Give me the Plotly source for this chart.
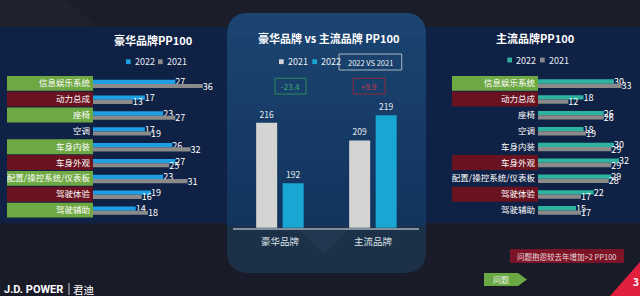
import plotly.graph_objects as go

W, H = 640, 296
def px(x): return x / W
def py(y): return 1 - y / H
def P(x, y): return f"{px(x):.5f},{py(y):.5f}"

# ---------------- data ----------------
categories = ["信息娱乐系统", "动力总成", "座椅", "空调", "车身内装", "车身外观",
              "配置/操控系统/仪表板", "驾驶体验", "驾驶辅助"]
luxury_2022 = [27, 17, 23, 17, 26, 27, 23, 19, 14]
luxury_2021 = [36, 13, 27, 19, 32, 25, 31, 16, 18]
mainstream_2022 = [30, 18, 26, 18, 30, 32, 29, 22, 15]
mainstream_2021 = [33, 12, 26, 19, 29, 29, 28, 17, 17]
luxury_tags = ["g", "r", "g", "", "g", "r", "g", "r", "g"]
mainstream_tags = ["g", "r", "", "", "", "r", "", "r", ""]
segments = ["豪华品牌", "主流品牌"]
total_2021 = [216, 209]
total_2022 = [192, 219]
change_labels = ["-23.4", "+9.9"]
years = ["2022", "2021"]

FONT = "Noto Sans CJK SC, Noto Sans, sans-serif"
BLUE = "#1e9fe3"
TEAL = "#2db3a0"
GRAY = "#8a8a8a"
LGRAY = "#d4d4d4"
CBLUE = "#1aa6d3"
GREEN_TAG = "#6ea843"
RED_TAG = "#6b1221"

fig = go.Figure()
rows = list(range(len(categories)))

common_h = dict(orientation="h", textposition="outside", cliponaxis=False,
                constraintext="none", textfont=dict(size=9, color="#ffffff"),
                hoverinfo="skip", marker_line_width=0)
# left chart
fig.add_bar(x=luxury_2022, y=rows, xaxis="x", yaxis="y", marker_color=BLUE,
            width=0.27, offset=-0.23, text=luxury_2022, **common_h)
fig.add_bar(x=luxury_2021, y=rows, xaxis="x", yaxis="y", marker_color=GRAY,
            width=0.26, offset=0.04, text=luxury_2021, **common_h)
# right chart
fig.add_bar(x=mainstream_2022, y=rows, xaxis="x3", yaxis="y3", marker_color=TEAL,
            width=0.27, offset=-0.25, text=mainstream_2022, **common_h)
fig.add_bar(x=mainstream_2021, y=rows, xaxis="x3", yaxis="y3", marker_color=GRAY,
            width=0.27, offset=0.02, text=mainstream_2021, **common_h)
# center chart
seg_x = list(range(len(segments)))
fig.add_bar(x=seg_x, y=total_2021, xaxis="x2", yaxis="y2", marker_color=LGRAY,
            marker_line_width=0,
            width=0.226, offset=-0.256, text=total_2021, textposition="outside",
            cliponaxis=False, textfont=dict(size=8.5, color="#e6ebf0"), hoverinfo="skip")
fig.add_bar(x=seg_x, y=total_2022, xaxis="x2", yaxis="y2", marker_color=CBLUE,
            marker_line_width=0,
            width=0.226, offset=0.029, text=total_2022, textposition="outside",
            cliponaxis=False, textfont=dict(size=8.5, color="#e6ebf0"), hoverinfo="skip")

shapes = []
annotations = []

def rect(x0, y0, x1, y1, color, line=None):
    d = dict(type="rect", xref="paper", yref="paper", x0=px(x0), x1=px(x1),
             y0=py(y1), y1=py(y0), fillcolor=color, layer="below")
    d["line"] = line if line else dict(width=0)
    shapes.append(d)

def path(pts, color, closed=True):
    d = "M " + " L ".join(P(*p) for p in pts) + (" Z" if closed else "")
    shapes.append(dict(type="path", xref="paper", yref="paper", path=d,
                       fillcolor=color, line=dict(width=0), layer="below"))

def text(x, y, s, size=9, color="#ffffff", xanchor="center", bold=False, family=FONT):
    annotations.append(dict(xref="paper", yref="paper", x=px(x), y=py(y), text=(f"<b>{s}</b>" if bold else s),
                            showarrow=False, xanchor=xanchor, yanchor="middle",
                            font=dict(size=size, color=color, family=family)))

# ---------------- background ----------------
rect(0, 0, 640, 27, "#1c1d2a")
path([(0, 0), (67, 0), (97, 27), (0, 27)], "#20212f")
rect(0, 27, 640, 223, "#0f2145")

# center panel (upper, rounded top)
up = (f"M {P(227,226)} L {P(227,35)} Q {P(227,13)} {P(249,13)} L {P(404,13)} "
      f"Q {P(426,13)} {P(426,35)} L {P(426,226)} Z")
shapes.append(dict(type="path", xref="paper", yref="paper", path=up,
                   fillcolor="#1b4470", line=dict(width=0), layer="below"))
top_c = (0x1b, 0x44, 0x70)
bot_c = (0x12, 0x35, 0x5d)
N = 12
for k in range(N):
    t = (k + 1) / N
    c = tuple(int(top_c[j] + (bot_c[j] - top_c[j]) * t) for j in range(3))
    y0 = 35 + (226 - 35) * k / N
    y1 = 35 + (226 - 35) * (k + 1) / N + 0.5
    rect(227, y0, 426, min(y1, 226), "#%02x%02x%02x" % c)
low = (f"M {P(227,226)} L {P(426,226)} L {P(426,251)} Q {P(426,273)} {P(404,273)} "
       f"L {P(249,273)} Q {P(227,273)} {P(227,251)} Z")
shapes.append(dict(type="path", xref="paper", yref="paper", path=low,
                   fillcolor="#1c3148", line=dict(width=0), layer="below"))
path([(297, 228), (350, 228), (323.5, 254)], "#213850")

# ---------------- tag boxes ----------------
for i, t in enumerate(luxury_tags):
    if t:
        shapes.append(dict(type="rect", xref="paper", yref="y", x0=px(7), x1=px(93),
                           y0=i - 0.47, y1=i + 0.47, line=dict(width=0), layer="below",
                           fillcolor=GREEN_TAG if t == "g" else RED_TAG))
for i, t in enumerate(mainstream_tags):
    if t:
        shapes.append(dict(type="rect", xref="paper", yref="y3", x0=px(452), x1=px(538),
                           y0=i - 0.47, y1=i + 0.47, line=dict(width=0), layer="below",
                           fillcolor=GREEN_TAG if t == "g" else RED_TAG))

# ---------------- titles & legends ----------------
text(153, 40, "豪华品牌PP100", size=11, bold=True)
text(535, 38.5, "主流品牌PP100", size=11, bold=True)
text(328.5, 37.5, "豪华品牌 vs 主流品牌 PP100", size=11, bold=True)

def legend_item(x, y, color, label):
    rect(x, y - 2.4, x + 4.7, y + 2.4, color)
    text(x + 6.5, y, label, size=9, color="#e8ecf2", xanchor="left")

legend_item(126, 61.7, BLUE, years[0])
legend_item(158, 61.7, GRAY, years[1])
legend_item(507.3, 60, TEAL, years[0])
legend_item(540, 60, GRAY, years[1])
legend_item(279, 61.7, LGRAY, years[1])
legend_item(312.3, 61.7, CBLUE, years[0])

# 2022 VS 2021 box
rect(339, 54, 401.7, 70, "rgba(0,0,0,0)", line=dict(color="#a9b6c4", width=1))
text(370.3, 62.2, "2022 VS 2021", size=7.5, color="#f0f3f6")
# change boxes
rect(275, 78.3, 306, 94, "rgba(0,0,0,0)", line=dict(color="#2b8a5e", width=1))
text(290.5, 86.3, change_labels[0], size=8, color="#3fae74")
rect(353.3, 78.3, 385, 94, "rgba(0,0,0,0)", line=dict(color="#8e2a3a", width=1))
text(369.2, 86.3, change_labels[1], size=8, color="#d2384a")

# ---------------- footer ----------------
text(2, 289, "J.D. POWER", size=11, bold=True, xanchor="left", family="Roboto, Noto Sans, sans-serif")
shapes.append(dict(type="line", xref="paper", yref="paper", x0=px(69), x1=px(69),
                   y0=py(295), y1=py(283), line=dict(color="#c8ccd4", width=1)))
text(71, 289, "君迪", size=10.5, xanchor="left")
rect(510, 249, 624, 263, "#7a1426")
text(567, 256, "问题抱怨较去年增加>2 PP100", size=7.5, color="#f2d6dc")
path([(484, 273), (518, 273), (527, 279.5), (518, 286), (484, 286)], "#6aa843")
text(501, 279.5, "问题", size=8, color="#eef5e8")
path([(610, 296), (640, 262), (640, 296)], "#e0203c")
text(631, 281, "3", size=10, bold=True, xanchor="left")

# ---------------- axes ----------------
ydom = [py(218.0), py(75.4)]
cat_axis = dict(domain=ydom, range=[8.5, -0.5], tickvals=rows, ticktext=categories,
                showgrid=False, zeroline=False, showline=False, ticks="",
                tickfont=dict(size=8.5, color="#ffffff", family=FONT), ticklabelstandoff=2,
                fixedrange=True)
val_axis = dict(range=[0, 40], visible=False, showgrid=False, zeroline=False, fixedrange=True)

fig.update_layout(
    width=W, height=H, margin=dict(l=0, r=0, t=0, b=0),
    paper_bgcolor="#1a1b28", plot_bgcolor="rgba(0,0,0,0)",
    showlegend=False, barmode="overlay",
    font=dict(family=FONT, color="#ffffff"),
    xaxis=dict(domain=[px(93), px(93 + 3.05 * 40)], anchor="y", **val_axis),
    yaxis=dict(anchor="x", **cat_axis),
    xaxis3=dict(domain=[px(538), px(538 + 2.53 * 40)], anchor="y3", **val_axis),
    yaxis3=dict(anchor="x3", **cat_axis),
    xaxis2=dict(domain=[px(233), px(419)], anchor="y2", range=[-0.505, 1.495],
                tickvals=seg_x, ticktext=segments, showgrid=False, zeroline=False,
                showline=True, linecolor="#7f8fa0", linewidth=1.5, ticks="",
                tickfont=dict(size=9.5, color="#dde3ea", family=FONT), ticklabelstandoff=4,
                fixedrange=True),
    yaxis2=dict(domain=[py(227.7), py(100)], anchor="x2", range=[174.4, 225],
                visible=False, showgrid=False, zeroline=False, fixedrange=True),
    shapes=shapes, annotations=annotations,
)

fig.write_html("out.html", config={"displayModeBar": False})
